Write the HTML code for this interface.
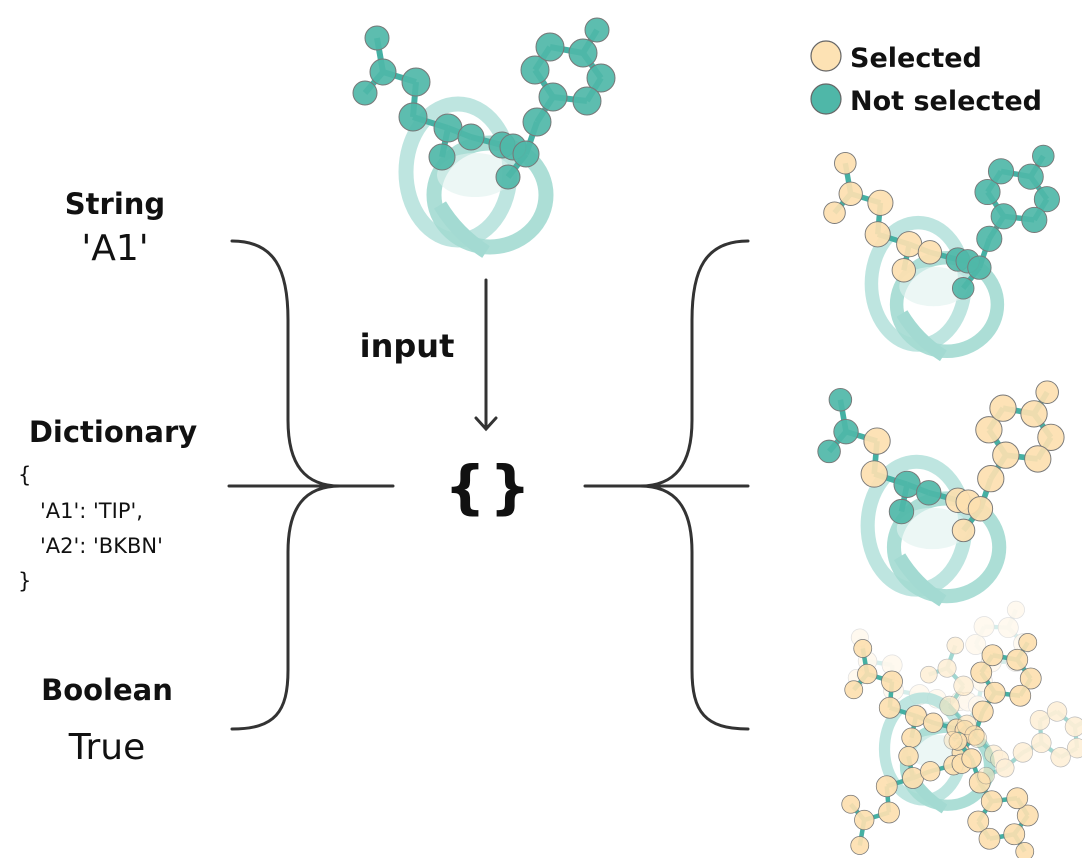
<!DOCTYPE html>
<html><head><meta charset="utf-8"><style>
html,body{margin:0;padding:0;background:#fff;width:1082px;height:858px;overflow:hidden}
svg{display:block}
text{font-family:"DejaVu Sans","Liberation Sans",sans-serif;fill:#111}
</style></head><body>
<svg id="s" width="1082" height="858" viewBox="0 0 1082 858" xmlns="http://www.w3.org/2000/svg">
<g fill="none" stroke="#333" stroke-width="3" stroke-linecap="round">
<path d="M232,241 C275,241 288,270 288,320 L288,420 C288,465 305,486 340,486 C305,486 288,507 288,552 L288,670 C288,712 275,729 232,729"/>
<path d="M229,486 L393,486"/>
<path d="M748,241 C705,241 692,270 692,320 L692,420 C692,465 675,486 640,486 C675,486 692,507 692,552 L692,670 C692,712 705,729 748,729"/>
<path d="M585,486 L748,486"/>
<path d="M486,280 L486,429 M476,418 L486,429 L496,418"/>
</g>
<text x="115" y="214" text-anchor="middle" font-weight="bold" font-size="29">String</text>
<text x="115" y="260" text-anchor="middle" font-size="36">'A1'</text>
<text x="113" y="442" text-anchor="middle" font-weight="bold" font-size="29">Dictionary</text>
<text x="18" y="482" font-size="21">{</text>
<text x="40" y="518" font-size="21">'A1': 'TIP',</text>
<text x="40" y="553" font-size="21">'A2': 'BKBN'</text>
<text x="18" y="588" font-size="21">}</text>
<text x="107" y="700" text-anchor="middle" font-weight="bold" font-size="29">Boolean</text>
<text x="107" y="759" text-anchor="middle" font-size="36">True</text>
<text x="407" y="357" text-anchor="middle" font-weight="bold" font-size="32">input</text>
<text x="465" y="507" text-anchor="middle" font-weight="bold" font-size="58" font-family="Liberation Sans">{</text>
<text x="510" y="507" text-anchor="middle" font-weight="bold" font-size="58" font-family="Liberation Sans">}</text>
<circle cx="826" cy="56" r="15" fill="#fde2b4" stroke="#666" stroke-width="1.2"/>
<circle cx="826" cy="99" r="15" fill="#4fb7a8" stroke="#666" stroke-width="1.2"/>
<text x="850" y="67" font-weight="bold" font-size="27">Selected</text>
<text x="850" y="110" font-weight="bold" font-size="27">Not selected</text>
<g id="mols"></g>
</svg>
<script>
var A=[[377,38,12],[383,72,13],[365,93,12],[416,82,14],[413,117,14],[448,128,14],[442,157,13],[471,137,13],[502,145,13],[513,147,13],[526,154,13],[508,177,12],[537,122,14],[553,97,14],[535,70,14],[550,47,14],[583,53,14],[597,30,12],[601,78,14],[587,101,14]];
var B=[[1,2],[2,3],[2,4],[4,5],[5,6],[6,7],[6,8],[8,9],[9,10],[10,11],[11,12],[11,13],[13,14],[14,15],[14,20],[15,16],[16,17],[17,18],[17,19],[19,20]];
var T="#4fb7a8",Y="#fde0b0";
var g=document.getElementById('mols'),ns="http://www.w3.org/2000/svg";
function el(n,a,p){var e=document.createElementNS(ns,n);for(var k in a)e.setAttribute(k,a[k]);(p||g).appendChild(e);return e;}
function mol(tr,yellow,op,helix){
 var G=el('g',{transform:tr,opacity:op});
 if(helix){
  el('ellipse',{cx:458,cy:172,rx:52,ry:68,fill:'none',stroke:'#b3e1da','stroke-width':15,opacity:0.85},G);
  el('ellipse',{cx:490,cy:195,rx:56,ry:52,fill:'none',stroke:'#a3dad2','stroke-width':15,opacity:0.9},G);
  el('path',{d:'M440,205 C455,230 475,245 486,252',fill:'none',stroke:'#a3dad2','stroke-width':14},G);
  el('ellipse',{cx:475,cy:175,rx:38,ry:22,fill:'#dff2ee',opacity:0.6},G);
 }
 B.forEach(function(b){var p=A[b[0]-1],q=A[b[1]-1];el('line',{x1:p[0],y1:p[1],x2:q[0],y2:q[1],stroke:'#45b0a3','stroke-width':6},G);});
 A.forEach(function(a,i){var y=yellow.indexOf(i+1)>=0;el('circle',{cx:a[0],cy:a[1],r:a[2],fill:y?Y:T,stroke:'#777','stroke-width':1,'fill-opacity':0.92},G);});
}
var all=[];for(var i=1;i<=20;i++)all.push(i);
mol('',[],1,true);
mol('translate(506,129) scale(0.9)',[1,2,3,4,5,6,7,8],1,true);
mol('translate(486,364) scale(0.94)',[4,5,9,10,11,12,13,14,15,16,17,18,19,20],1,true);
mol('translate(600,600) scale(0.72) rotate(-8 470 160)',all,0.22,false);
mol('translate(1290,1330) scale(0.72) rotate(180 470 160)',all,0.25,false);
mol('translate(580,620) scale(0.75)',all,1,true);
mol('translate(577,634) scale(0.75) translate(0,320) scale(1,-1)',all,1,false);
mol('translate(640,640) scale(0.7) rotate(30 470 160)',all,0.5,false);
</script>
</body></html>
